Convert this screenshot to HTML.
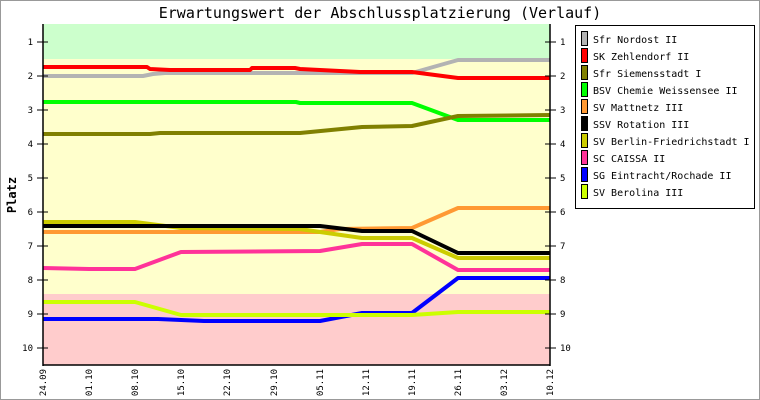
<!DOCTYPE html>
<html><head><meta charset="utf-8"><style>
html,body{margin:0;padding:0;background:#fff}
svg{display:block}
text{font-family:"DejaVu Sans Mono","Liberation Mono",monospace}
</style></head><body>
<svg width="760" height="400" viewBox="0 0 760 400" xmlns="http://www.w3.org/2000/svg">
<rect x="0.5" y="0.5" width="759" height="399" fill="#fff" stroke="#999" stroke-width="1"/>
<text x="380" y="18" font-size="15" text-anchor="middle" fill="#000">Erwartungswert der Abschlussplatzierung (Verlauf)</text>
<rect x="43" y="24" width="507" height="35" fill="#ccffcc"/>
<rect x="43" y="59" width="507" height="235" fill="#ffffcc"/>
<rect x="43" y="294" width="507" height="71" fill="#ffcccc"/>
<g fill="none" stroke-width="4" stroke-linejoin="round">
<polyline stroke="#b3b3b3" points="43,76 143,76 153,74 165,73 340,73 412,73 458,60 550,60"/>
<polyline stroke="#ff0000" points="43,67 147,67 150,69 170,70 250,70 252,68 295,68 300,69 360,72 412,72 458,78 550,78"/>
<polyline stroke="#00ff00" points="43,102 296,102 300,103 412,103 458,120 550,120"/>
<polyline stroke="#808000" points="43,134 150,134 160,133 300,133 362,127 412,126 458,116 550,115"/>
<polyline stroke="#ff9933" points="43,232 320,232 340,229 412,228 458,208 550,208"/>
<polyline stroke="#cccc00" points="43,222 135,222 181,228 300,229 320,232 362,238 412,238 458,258 550,258"/>
<polyline stroke="#000000" points="43,226 320,226 362,231 412,231 458,253 550,253"/>
<polyline stroke="#ff3399" points="43,268 89,269 135,269 181,252 320,251 362,244 412,244 458,270 550,270"/>
<polyline stroke="#0000ff" points="43,319 158,319 204,321 320,321 362,313 412,313 458,278 550,278"/>
<polyline stroke="#ccff00" points="43,302 135,302 181,315 412,315 458,312 550,312"/>
</g>
<g stroke="#000" stroke-width="1.5">
<line x1="43" y1="24" x2="43" y2="366"/>
<line x1="550" y1="24" x2="550" y2="366"/>
<line x1="43" y1="365" x2="550" y2="365"/>
</g>
<g stroke="#000" stroke-width="1">
<line x1="37" y1="42" x2="48" y2="42"/><line x1="545" y1="42" x2="556" y2="42"/>
<line x1="37" y1="76" x2="48" y2="76"/><line x1="545" y1="76" x2="556" y2="76"/>
<line x1="37" y1="110" x2="48" y2="110"/><line x1="545" y1="110" x2="556" y2="110"/>
<line x1="37" y1="144" x2="48" y2="144"/><line x1="545" y1="144" x2="556" y2="144"/>
<line x1="37" y1="178" x2="48" y2="178"/><line x1="545" y1="178" x2="556" y2="178"/>
<line x1="37" y1="212" x2="48" y2="212"/><line x1="545" y1="212" x2="556" y2="212"/>
<line x1="37" y1="246" x2="48" y2="246"/><line x1="545" y1="246" x2="556" y2="246"/>
<line x1="37" y1="280" x2="48" y2="280"/><line x1="545" y1="280" x2="556" y2="280"/>
<line x1="37" y1="314" x2="48" y2="314"/><line x1="545" y1="314" x2="556" y2="314"/>
<line x1="37" y1="348" x2="48" y2="348"/><line x1="545" y1="348" x2="556" y2="348"/>
</g>
<g font-size="9" fill="#000">
<g text-anchor="end">
<text x="33" y="45">1</text><text x="33" y="79">2</text><text x="33" y="113">3</text><text x="33" y="147">4</text><text x="33" y="181">5</text><text x="33" y="215">6</text><text x="33" y="249">7</text><text x="33" y="283">8</text><text x="33" y="317">9</text><text x="33" y="351">10</text>
</g>
<g text-anchor="start">
<text x="560" y="45">1</text><text x="560" y="79">2</text><text x="560" y="113">3</text><text x="560" y="147">4</text><text x="560" y="181">5</text><text x="560" y="215">6</text><text x="560" y="249">7</text><text x="560" y="283">8</text><text x="560" y="317">9</text><text x="560" y="351">10</text>
</g>
<g text-anchor="end">
<text transform="translate(46,369) rotate(-90)">24.09</text>
<text transform="translate(92,369) rotate(-90)">01.10</text>
<text transform="translate(138,369) rotate(-90)">08.10</text>
<text transform="translate(184,369) rotate(-90)">15.10</text>
<text transform="translate(230,369) rotate(-90)">22.10</text>
<text transform="translate(277,369) rotate(-90)">29.10</text>
<text transform="translate(323,369) rotate(-90)">05.11</text>
<text transform="translate(369,369) rotate(-90)">12.11</text>
<text transform="translate(415,369) rotate(-90)">19.11</text>
<text transform="translate(461,369) rotate(-90)">26.11</text>
<text transform="translate(507,369) rotate(-90)">03.12</text>
<text transform="translate(553,369) rotate(-90)">10.12</text>
</g>
</g>
<text transform="translate(16,195) rotate(-90)" font-size="12" font-weight="bold" text-anchor="middle">Platz</text>
<rect x="575.5" y="25.5" width="179" height="183" fill="#fff" stroke="#000" stroke-width="1"/>
<g stroke="#000" stroke-width="1">
<rect x="581.5" y="31.5" width="6" height="14" fill="#b3b3b3"/>
<rect x="581.5" y="48.5" width="6" height="14" fill="#ff0000"/>
<rect x="581.5" y="65.5" width="6" height="14" fill="#808000"/>
<rect x="581.5" y="82.5" width="6" height="14" fill="#00ff00"/>
<rect x="581.5" y="99.5" width="6" height="14" fill="#ff9933"/>
<rect x="581.5" y="116.5" width="6" height="14" fill="#000000"/>
<rect x="581.5" y="133.5" width="6" height="14" fill="#cccc00"/>
<rect x="581.5" y="150.5" width="6" height="14" fill="#ff3399"/>
<rect x="581.5" y="167.5" width="6" height="14" fill="#0000ff"/>
<rect x="581.5" y="184.5" width="6" height="14" fill="#ccff00"/>
</g>
<g font-size="10" fill="#000">
<text x="593" y="43">Sfr Nordost II</text>
<text x="593" y="60">SK Zehlendorf II</text>
<text x="593" y="77">Sfr Siemensstadt I</text>
<text x="593" y="94">BSV Chemie Weissensee II</text>
<text x="593" y="111">SV Mattnetz III</text>
<text x="593" y="128">SSV Rotation III</text>
<text x="593" y="145">SV Berlin-Friedrichstadt I</text>
<text x="593" y="162">SC CAISSA II</text>
<text x="593" y="179">SG Eintracht/Rochade II</text>
<text x="593" y="196">SV Berolina III</text>
</g>
</svg>
</body></html>
